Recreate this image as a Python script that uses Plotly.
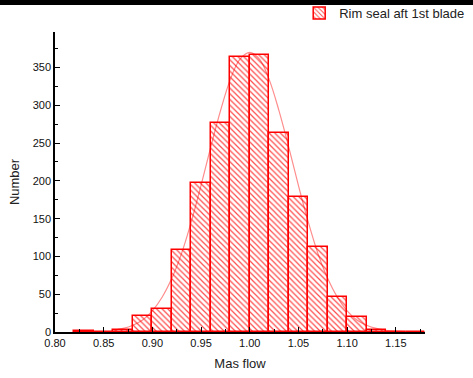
import plotly.graph_objects as go

# Histogram bins (left edges), bin width and counts
bin_left = [0.82, 0.84, 0.86, 0.88, 0.90, 0.92, 0.94, 0.96, 0.98, 1.00,
            1.02, 1.04, 1.06, 1.08, 1.10, 1.12, 1.14, 1.16]
bin_width = 0.02
counts = [1, 0, 3, 21, 31, 108, 197, 276, 364, 367,
          264, 179, 113, 46, 20, 3, 0, 0]

# Fitted distribution curve
curve_x = [0.86, 0.87, 0.88, 0.89, 0.90, 0.91, 0.92, 0.93, 0.94, 0.95, 0.96,
           0.97, 0.98, 0.99, 1.00, 1.01, 1.02, 1.03, 1.04, 1.05, 1.06, 1.07,
           1.08, 1.09, 1.10, 1.11, 1.12, 1.13, 1.14, 1.15, 1.16, 1.17, 1.18]
curve_y = [2.3, 4.7, 9, 16, 28, 46, 71, 104, 146, 194, 245,
           293, 334, 361, 370, 361, 334, 293, 245, 194, 146, 104,
           71, 46, 28, 16, 9, 4.7, 2.3, 1.1, 0.5, 0.2, 0.1]

series_name = "Rim seal aft 1st blade"
x_title = "Mas flow"
y_title = "Number"

centers = [b + bin_width / 2 for b in bin_left]

fig = go.Figure()
fig.add_trace(go.Bar(
    x=centers, y=counts, width=[bin_width] * len(counts),
    name=series_name,
    marker=dict(
        color="rgba(255,255,255,0)",
        line=dict(color="#ff0000", width=1.5),
        pattern=dict(shape="\\", fgcolor="#ff0000", fgopacity=0.7,
                     size=4, solidity=0.3),
    ),
    showlegend=True,
))
fig.add_trace(go.Scatter(
    x=curve_x, y=curve_y, mode="lines",
    line=dict(color="rgba(255,0,0,0.45)", width=1.2, shape="spline"),
    showlegend=False, hoverinfo="skip",
))

axis_font = dict(family="Liberation Sans, Arial, sans-serif", size=11, color="#111")
fig.update_layout(
    width=473, height=378,
    margin=dict(l=54.5, r=48, t=32, b=46, autoexpand=False),
    paper_bgcolor="white", plot_bgcolor="white",
    bargap=0,
    font=dict(family="Liberation Sans, Arial, sans-serif", size=13, color="#222"),
    legend=dict(x=0.66, xanchor="left", y=1.063, yanchor="middle",
                bgcolor="rgba(0,0,0,0)", font=dict(size=13, color="#222"),
                orientation="h"),
    xaxis=dict(range=[0.80, 1.18], tick0=0.80, dtick=0.05, tickformat=".2f",
               ticks="inside", ticklen=5, tickwidth=1.2, tickcolor="black",
               minor=dict(dtick=0.025, ticks="inside", ticklen=3, tickcolor="black"),
               showline=True, linecolor="black", linewidth=1.5,
               showgrid=False, zeroline=False, tickfont=axis_font,
               title=dict(text=x_title, font=dict(size=13), standoff=11)),
    yaxis=dict(range=[0, 397], tick0=0, dtick=50,
               ticks="inside", ticklen=5, tickwidth=1.2, tickcolor="black",
               minor=dict(dtick=25, ticks="inside", ticklen=3, tickcolor="black"),
               showline=True, linecolor="black", linewidth=1.5,
               showgrid=False, zeroline=False, tickfont=axis_font,
               title=dict(text=y_title, font=dict(size=13), standoff=10)),
    shapes=[dict(type="rect", xref="paper", yref="paper",
                 x0=-0.2, x1=1.2, y0=1.09, y1=1.12,
                 fillcolor="black", line=dict(width=0), layer="above")],
)

fig.write_html("out.html")
